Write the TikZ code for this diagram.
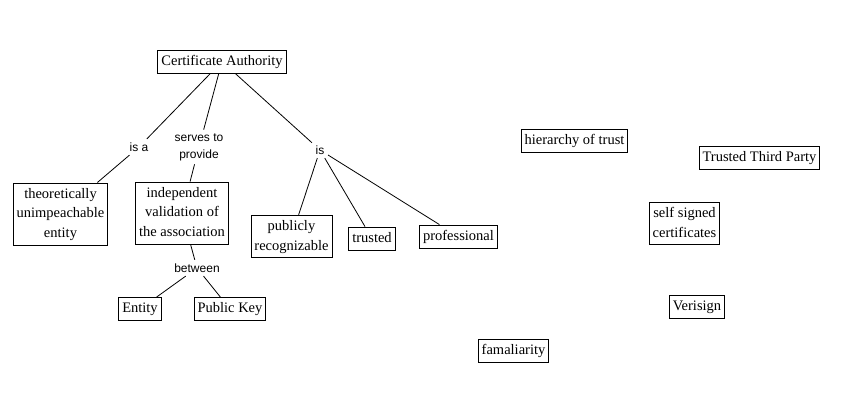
\documentclass[tikz,border=0pt]{standalone}
\usepackage{fontspec}
\setmainfont{Liberation Serif}
\setsansfont{Liberation Sans}
\begin{document}
\begin{tikzpicture}[x=1pt,y=-1pt,
  box/.style={draw,line width=0.9pt,align=center,inner xsep=3.5pt,inner ysep=1.75pt,
    font=\fontsize{14.5}{19.5}\selectfont},
  lbl/.style={align=center,inner sep=3.5pt,font=\sffamily\fontsize{12}{17}\selectfont},
  conn/.style={line width=0.8pt}]
\useasboundingbox (0,0) rectangle (867,403);
\fill[white] (0,0) rectangle (867,403);
% concepts
\node[box] (ca) at (222,61.5) {\strut Certificate Authority};
\node[box] (theo) at (60.5,214) {\strut theoretically\\\strut unimpeachable\\\strut entity};
\node[box] (indep) at (182,213) {\strut independent\\\strut validation of\\\strut the association};
\node[box] (pub) at (291.5,236.5) {\strut publicly\\\strut recognizable};
\node[box] (trusted) at (372,238.5) {\strut trusted};
\node[box] (prof) at (458.5,236.5) {\strut professional};
\node[box] (entity) at (140,309) {\strut Entity};
\node[box] (pk) at (230,309) {\strut Public Key};
\node[box] (hier) at (574.5,140.5) {\strut hierarchy of trust};
\node[box] (ttp) at (759.5,157.5) {\strut Trusted Third Party};
\node[box] (self) at (684.5,223.5) {\strut self signed\\\strut certificates};
\node[box] (veri) at (697,307) {\strut Verisign};
\node[box] (fam) at (513.5,350.5) {\strut famaliarity};
% linking phrases
\node[lbl] (isa) at (139,147) {is a};
\node[lbl] (serves) at (199,147) {serves to\\provide};
\node[lbl] (is) at (320,150) {is};
\node[lbl] (between) at (197,268) {between};
% connectors
\draw[conn] (ca) -- (isa);
\draw[conn] (isa) -- (theo);
\draw[conn] (ca) -- (serves);
\draw[conn] (serves) -- (indep);
\draw[conn] (ca) -- (is);
\draw[conn] (is) -- (pub);
\draw[conn] (is) -- (trusted);
\draw[conn] (is) -- (prof);
\draw[conn] (indep) -- (between);
\draw[conn] (between) -- (entity);
\draw[conn] (between) -- (pk);
\end{tikzpicture}
\end{document}
